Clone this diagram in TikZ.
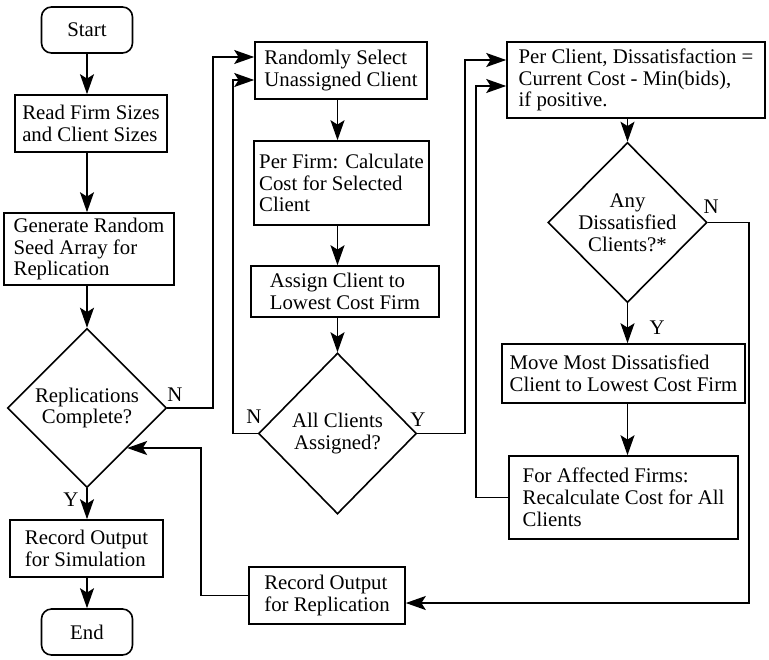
\documentclass[tikz,border=0pt]{standalone}
\usepackage{fontspec}
\setmainfont{Liberation Serif}
\usetikzlibrary{positioning,shapes.geometric,arrows.meta}

\begin{document}
\begin{tikzpicture}[
    x=0.5pt, y=-0.5pt, line width=0.8pt,
    font=\fontsize{10.4}{10.9}\selectfont,
    box/.style={draw,rectangle,align=left,inner sep=0pt},
    term/.style={draw,rectangle,rounded corners=5pt,minimum width=45.5pt,minimum height=23pt,inner sep=0pt},
    decision/.style={draw,diamond,align=center,inner sep=0pt},
    arr/.style={-{Stealth[length=10pt,width=7pt,inset=2.2pt]}},
    lbl/.style={inner sep=0pt}
]
    \useasboundingbox (0,0) rectangle (769,659);

    % Outer loop
    \node[term] (start) at (87,30) {Start};
    \node[box,minimum width=76pt,minimum height=28.5pt] (read) at (91,123.5) {Read Firm Sizes\\and Client Sizes};
    \node[box,minimum width=85pt,minimum height=36pt] (gen) at (89,249) {Generate Random\\Seed Array for\\Replication};
    \node[decision,minimum width=79.5pt,minimum height=79.5pt] (repq) at (87,408) {Replications\\Complete?};
    \node[box,minimum width=76.5pt,minimum height=28.5pt] (recsim) at (86.5,548.5) {Record Output\\for Simulation};
    \node[term] (finish) at (87,632) {End};

    % Assignment loop
    \node[box,minimum width=86pt,minimum height=28.5pt] (rand) at (341,70.5) {Randomly Select\\Unassigned Client};
    \node[box,minimum width=87.5pt,minimum height=42pt] (perfirm) at (341.5,183) {Per Firm: Calculate\\Cost for Selected\\Client};
    \node[box,minimum width=94pt,minimum height=25.5pt] (assign) at (345,291.5) {Assign Client to\\Lowest Cost Firm};
    \node[decision,minimum width=79pt,minimum height=80.5pt] (allq) at (337.5,433.5) {All Clients\\Assigned?};
    \node[box,minimum width=78pt,minimum height=28.5pt] (recrep) at (327,595.5) {Record Output\\for Replication};

    % Dissatisfaction loop
    \node[box,minimum width=129pt,minimum height=38pt] (perclient) at (636,80) {Per Client, Dissatisfaction =\\Current Cost - Min(bids),\\if positive.};
    \node[decision,minimum width=79.5pt,minimum height=80pt] (anyq) at (627.5,222.5) {Any\\Dissatisfied\\Clients?*};
    \node[box,minimum width=121.5pt,minimum height=29.5pt] (move) at (623.5,373.5) {Move Most Dissatisfied\\Client to Lowest Cost Firm};
    \node[box,minimum width=114.5pt,minimum height=41.5pt] (affected) at (623.5,497.5) {For Affected Firms:\\Recalculate Cost for All\\Clients};

    % Branch labels
    \node[lbl] (nrep) at (175,395) {N};
    \node[lbl] (yrep) at (71,500) {Y};
    \node[lbl] (nall) at (254,417) {N};
    \node[lbl] (yall) at (418,420) {Y};
    \node[lbl] (nany) at (711,207) {N};
    \node[lbl] (yany) at (657,328) {Y};

    % Bends of the loop lines
    \coordinate (k1) at (213,57);
    \coordinate (k2) at (233,80);
    \coordinate (k3) at (465,60);
    \coordinate (k4) at (476,86);
    \coordinate (k5) at (749,603);
    \coordinate (k6) at (201,448);

    % Arrows
    \draw[arr] (start.south) -- (start.south |- read.north);
    \draw[arr] (read.south -| start) -- (gen.north -| start);
    \draw[arr] (gen.south -| repq) -- (repq.north);
    \draw[arr] (repq.south) -- (repq.south |- recsim.north);
    \draw[arr] (recsim.south -| repq) -- (finish.north);
    \draw[arr] (repq.east) -| (k1) -- (k1 -| rand.west);

    \draw[arr] (rand.south -| allq) -- (perfirm.north -| allq);
    \draw[arr] (perfirm.south -| allq) -- (assign.north -| allq);
    \draw[arr] (assign.south -| allq) -- (allq.north);
    \draw[arr] (allq.west) -| (k2) -- (k2 -| rand.west);
    \draw[arr] (allq.east) -| (k3) -- (k3 -| perclient.west);

    \draw[arr] (perclient.south -| anyq) -- (anyq.north);
    \draw[arr] (anyq.south) -- (anyq.south |- move.north);
    \draw[arr] (move.south -| anyq) -- (affected.north -| anyq);
    \draw[arr] (affected.west) -| (k4) -- (k4 -| perclient.west);
    \draw[arr] (anyq.east) -| (k5) -- (k5 -| recrep.east);
    \draw[arr] (recrep.west) -| (k6) -- (k6 -| repq.south east);

\end{tikzpicture}
\end{document}
